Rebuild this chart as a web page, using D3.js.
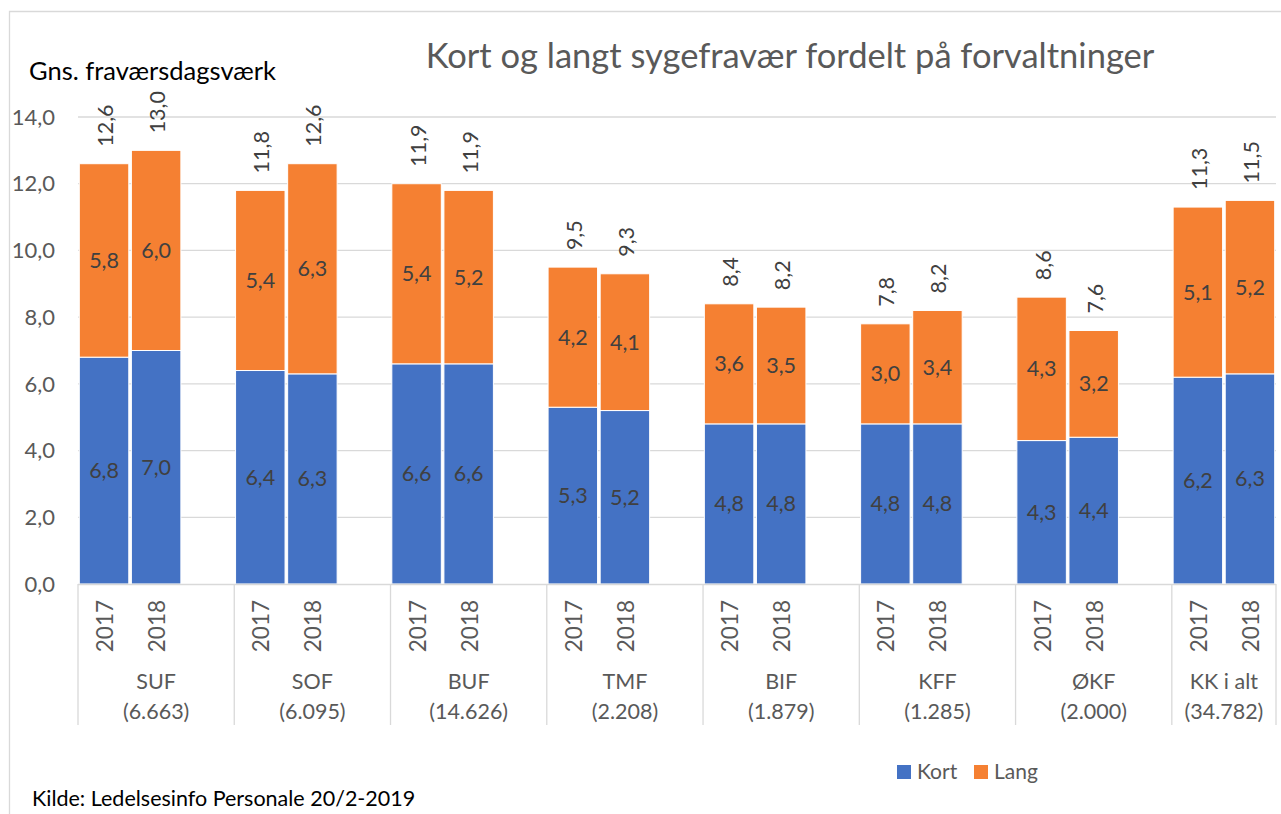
<!DOCTYPE html>
<html lang="da">
<head>
<meta charset="utf-8">
<title>Kort og langt sygefravær fordelt på forvaltninger</title>
<script src="https://cdn.jsdelivr.net/npm/d3@7"></script>
<style>
body { margin: 0; background: #fff; }
svg { font-family: Lato, "Open Sans", sans-serif; }
.grid line { stroke: #d9d9d9; stroke-width: 1.3px; }
.ytick text { fill: #595959; font-size: 22px; }
.lbl { fill: #404040; font-size: 21.5px; }
.year { fill: #595959; font-size: 22.5px; }
.grp { fill: #595959; font-size: 21.5px; }
</style>
</head>
<body>
<svg id="chart" width="1281" height="814"></svg>
<script>
// data
var groups = ["SUF", "SOF", "BUF", "TMF", "BIF", "KFF", "ØKF", "KK i alt"];
var groupCounts = ["(6.663)", "(6.095)", "(14.626)", "(2.208)", "(1.879)", "(1.285)", "(2.000)", "(34.782)"];
var years = ["2017", "2018"];
var kort = [6.8, 7.0, 6.4, 6.3, 6.6, 6.6, 5.3, 5.2, 4.8, 4.8, 4.8, 4.8, 4.3, 4.4, 6.2, 6.3];
var lang = [5.8, 6.0, 5.4, 6.3, 5.4, 5.2, 4.2, 4.1, 3.6, 3.5, 3.0, 3.4, 4.3, 3.2, 5.1, 5.2];
var totals = [12.6, 13.0, 11.8, 12.6, 11.9, 11.9, 9.5, 9.3, 8.4, 8.2, 7.8, 8.2, 8.6, 7.6, 11.3, 11.5];
var yTicks = [0, 2, 4, 6, 8, 10, 12, 14];

var blue = "#4472c4", orange = "#f58032";
var fmt = d3.formatLocale({decimal: ",", thousands: ".", grouping: [3], currency: ["", ""]}).format(".1f");

var svg = d3.select("#chart");

// frame of the chart area
svg.append("path")
    .attr("d", "M9.5,814 V11.5 H1281")
    .attr("fill", "none")
    .attr("stroke", "#d9d9d9")
    .attr("stroke-width", 1.3);

var plotLeft = 78, plotRight = 1276, plotTop = 117, plotBottom = 584;

// 8 groups x 2 years, with an empty slot after each group except the last
var slots = [];
groups.forEach(function(g, gi) {
  years.forEach(function(yr, k) { slots.push(gi * 3 + k); });
});
var nSlots = groups.length * 3 - 1;

var x = d3.scaleBand()
    .domain(d3.range(nSlots))
    .range([plotLeft, plotRight])
    .paddingInner(0.05)
    .paddingOuter(0.025);

var y = d3.scaleLinear()
    .domain([0, 14])
    .range([plotBottom, plotTop]);

// gridlines
svg.append("g").attr("class", "grid")
  .selectAll("line")
  .data(yTicks.slice(1))
  .enter().append("line")
    .attr("x1", plotLeft).attr("x2", plotRight)
    .attr("y1", function(d) { return y(d); })
    .attr("y2", function(d) { return y(d); });

// y tick labels
svg.append("g").attr("class", "ytick")
  .selectAll("text")
  .data(yTicks)
  .enter().append("text")
    .attr("x", 55)
    .attr("y", function(d) { return y(d); })
    .attr("dy", "0.35em")
    .attr("text-anchor", "end")
    .text(function(d) { return fmt(d); });

// bars
var bars = svg.append("g");
slots.forEach(function(s, i) {
  var x0 = x(s), w = x.bandwidth();
  bars.append("rect")
      .attr("x", x0).attr("width", w)
      .attr("y", y(kort[i])).attr("height", y(0) - y(kort[i]))
      .attr("fill", blue).attr("stroke", "#fff").attr("stroke-width", 1);
  bars.append("rect")
      .attr("x", x0).attr("width", w)
      .attr("y", y(kort[i] + lang[i])).attr("height", y(kort[i]) - y(kort[i] + lang[i]))
      .attr("fill", orange).attr("stroke", "#fff").attr("stroke-width", 1);

  var cx = x0 + w / 2;
  svg.append("text").attr("class", "lbl")
      .attr("x", cx).attr("y", y(kort[i] / 2)).attr("dy", "0.35em")
      .attr("text-anchor", "middle").text(fmt(kort[i]));
  svg.append("text").attr("class", "lbl")
      .attr("x", cx).attr("y", y(kort[i] + lang[i] / 2)).attr("dy", "0.35em")
      .attr("text-anchor", "middle").text(fmt(lang[i]));
  svg.append("text").attr("class", "lbl")
      .attr("transform", "translate(" + (cx + 9) + "," + (y(kort[i] + lang[i]) - 17) + ")rotate(-90)")
      .attr("text-anchor", "start").text(fmt(totals[i]));

  // year label
  svg.append("text").attr("class", "year")
      .attr("transform", "translate(" + (cx + 9) + "," + 600 + ")rotate(-90)")
      .attr("text-anchor", "end").text(years[i % 2]);
});

// category axis: baseline, group separators and group labels
svg.append("line")
    .attr("x1", plotLeft).attr("x2", plotRight)
    .attr("y1", plotBottom + 0.5).attr("y2", plotBottom + 0.5)
    .attr("stroke", "#d9d9d9").attr("stroke-width", 1.3);

var step = x.step();
groups.forEach(function(g, gi) {
  var gx0 = plotLeft + gi * 3 * step;
  var gx1 = Math.min(plotLeft + (gi * 3 + 3) * step, plotRight);
  svg.append("text").attr("class", "grp")
      .attr("x", (gx0 + gx1) / 2).attr("y", 689)
      .attr("text-anchor", "middle").text(g);
  svg.append("text").attr("class", "grp")
      .attr("x", (gx0 + gx1) / 2).attr("y", 719)
      .attr("text-anchor", "middle").text(groupCounts[gi]);
});
d3.range(groups.length + 1).forEach(function(gi) {
  var gx = Math.min(plotLeft + gi * 3 * step, plotRight);
  svg.append("line")
      .attr("x1", gx).attr("x2", gx)
      .attr("y1", plotBottom).attr("y2", 725)
      .attr("stroke", "#d9d9d9").attr("stroke-width", 1.3);
});

// titles
svg.append("text")
    .attr("x", 790).attr("y", 68)
    .attr("text-anchor", "middle")
    .attr("fill", "#595959")
    .style("font-size", "34.5px")
    .text("Kort og langt sygefravær fordelt på forvaltninger");

svg.append("text")
    .attr("x", 29).attr("y", 80)
    .attr("fill", "#000")
    .style("font-size", "25.5px")
    .text("Gns. fraværsdagsværk");

// legend
var legend = [{name: "Kort", color: blue, x: 897}, {name: "Lang", color: orange, x: 974}];
legend.forEach(function(l) {
  svg.append("rect").attr("x", l.x).attr("y", 765).attr("width", 14).attr("height", 14).attr("fill", l.color);
  svg.append("text").attr("x", l.x + 20).attr("y", 779)
      .attr("fill", "#595959").style("font-size", "21px").text(l.name);
});

svg.append("text")
    .attr("x", 32).attr("y", 806)
    .attr("fill", "#000")
    .style("font-size", "21.5px")
    .text("Kilde: Ledelsesinfo Personale 20/2-2019");
</script>
</body>
</html>
